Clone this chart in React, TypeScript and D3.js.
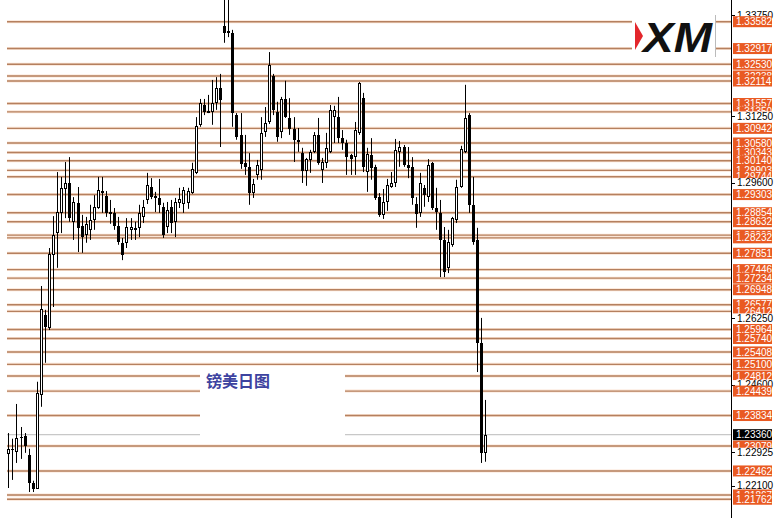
import React from "react";
import * as d3 from "d3";

// daily candles (oldest first)
const opens = [
  1.2288, 1.2298, 1.2293, 1.2328, 1.2333, 1.2286, 1.2217, 1.2202, 1.2434, 1.2632,
  1.26, 1.2781, 1.2835, 1.2885, 1.2944, 1.2959, 1.2863, 1.291, 1.2853, 1.283,
  1.2843, 1.2868, 1.2897, 1.2934, 1.2927, 1.2887, 1.2885, 1.2853, 1.2811, 1.2811,
  1.2843, 1.2848, 1.2848, 1.2875, 1.2917, 1.2949, 1.2927, 1.2922, 1.29, 1.285,
  1.29, 1.2863, 1.291, 1.2907, 1.291, 1.2934, 1.2984, 1.3103, 1.3152, 1.3137,
  1.3135, 1.3157, 1.3194, 1.3348, 1.3335, 1.333, 1.3127, 1.3078, 1.3009, 1.2999,
  1.2934, 1.2979, 1.2991, 1.3085, 1.311, 1.3224, 1.3135, 1.3085, 1.3167, 1.312,
  1.3093, 1.3066, 1.3033, 1.2989, 1.3016, 1.3036, 1.3078, 1.2991, 1.3009, 1.3036,
  1.3122, 1.3122, 1.307, 1.3058, 1.3028, 1.3023, 1.3083, 1.3169, 1.2986, 1.3028,
  1.2999, 1.2924, 1.288, 1.2912, 1.2949, 1.2959, 1.3036, 1.3048, 1.3004, 1.2999,
  1.2907, 1.2885, 1.2947, 1.2924, 1.3009, 1.2897, 1.2885, 1.2818, 1.2749, 1.2806,
  1.2868, 1.2949, 1.3036, 1.3127, 1.2905, 1.2818, 1.2563, 1.2291,
];
const highs = [
  1.234, 1.2326, 1.2412, 1.2355, 1.234, 1.2301, 1.2222, 1.2467, 1.2704, 1.2645,
  1.2798, 1.2877, 1.2986, 1.2974, 1.3011, 1.3023, 1.2924, 1.2949, 1.288, 1.2875,
  1.2905, 1.2929, 1.2974, 1.2974, 1.2939, 1.2917, 1.2897, 1.2875, 1.2823, 1.2872,
  1.2872, 1.2863, 1.2905, 1.2917, 1.2984, 1.2971, 1.2937, 1.2969, 1.291, 1.2912,
  1.2917, 1.2922, 1.2947, 1.2949, 1.2947, 1.3009, 1.3122, 1.3167, 1.3167, 1.3177,
  1.3214, 1.3221, 1.3229, 1.3424, 1.342, 1.3338, 1.3132, 1.3132, 1.3078, 1.3033,
  1.2969, 1.3016, 1.3122, 1.3147, 1.3283, 1.3229, 1.316, 1.3172, 1.3212, 1.3169,
  1.3122, 1.3095, 1.3046, 1.3021, 1.3041, 1.3085, 1.312, 1.3021, 1.3083, 1.3152,
  1.315, 1.3172, 1.309, 1.3066, 1.3031, 1.311, 1.3209, 1.3182, 1.3046, 1.307,
  1.3004, 1.2934, 1.2944, 1.2969, 1.2986, 1.3068, 1.3063, 1.3053, 1.3048, 1.3023,
  1.2924, 1.2984, 1.2954, 1.3018, 1.3011, 1.2947, 1.2917, 1.285, 1.2843, 1.2875,
  1.2967, 1.3051, 1.3202, 1.3132, 1.2974, 1.2848, 1.2625, 1.2422,
];
const lows = [
  1.2204, 1.2224, 1.2266, 1.2276, 1.2291, 1.2194, 1.2194, 1.2202, 1.2405, 1.2514,
  1.2595, 1.2652, 1.2749, 1.2835, 1.2872, 1.2863, 1.2818, 1.2788, 1.2786, 1.2811,
  1.2818, 1.2843, 1.2895, 1.2885, 1.2875, 1.2858, 1.2843, 1.2806, 1.2768, 1.2798,
  1.2818, 1.2818, 1.2825, 1.286, 1.2907, 1.2919, 1.2887, 1.2885, 1.2823, 1.2835,
  1.2835, 1.2825, 1.2897, 1.2885, 1.2895, 1.2932, 1.2981, 1.3098, 1.3127, 1.3132,
  1.3103, 1.314, 1.3048, 1.3306, 1.332, 1.3098, 1.3066, 1.2994, 1.2979, 1.2905,
  1.2922, 1.2967, 1.2967, 1.3073, 1.3105, 1.3127, 1.3061, 1.307, 1.312, 1.3078,
  1.3011, 1.3036, 1.2959, 1.2952, 1.2984, 1.3033, 1.3004, 1.2959, 1.2996, 1.3033,
  1.3058, 1.3058, 1.3041, 1.2979, 1.2979, 1.2979, 1.3078, 1.2986, 1.2937, 1.2967,
  1.2917, 1.2875, 1.287, 1.289, 1.2947, 1.2949, 1.2999, 1.2999, 1.2971, 1.2905,
  1.2848, 1.2875, 1.29, 1.2912, 1.2892, 1.2843, 1.2726, 1.2726, 1.2736, 1.2801,
  1.286, 1.2947, 1.3033, 1.2885, 1.2806, 1.2491, 1.2266, 1.2269,
];
const closes = [
  1.2301, 1.2301, 1.2328, 1.233, 1.2308, 1.2217, 1.2202, 1.2439, 1.2647, 1.2603,
  1.2783, 1.283, 1.2887, 1.2947, 1.2959, 1.2872, 1.2912, 1.2848, 1.2825, 1.2858,
  1.2868, 1.29, 1.2942, 1.2939, 1.2885, 1.2882, 1.2853, 1.2813, 1.2781, 1.285,
  1.285, 1.2843, 1.2885, 1.29, 1.2954, 1.2924, 1.2922, 1.2905, 1.283, 1.2892,
  1.286, 1.2912, 1.2919, 1.2942, 1.2939, 1.2994, 1.31, 1.3157, 1.3135, 1.3132,
  1.3157, 1.3194, 1.3165, 1.333, 1.333, 1.3132, 1.3073, 1.3006, 1.2999, 1.2934,
  1.2957, 1.3004, 1.3083, 1.3108, 1.3251, 1.314, 1.3073, 1.3167, 1.3122, 1.3093,
  1.3066, 1.3061, 1.2989, 1.3018, 1.3036, 1.3078, 1.3009, 1.3011, 1.3046, 1.314,
  1.314, 1.307, 1.3058, 1.3023, 1.3018, 1.309, 1.3207, 1.2999, 1.3031, 1.2996,
  1.2922, 1.288, 1.2912, 1.2954, 1.2959, 1.3041, 1.3048, 1.3004, 1.2996, 1.2922,
  1.2882, 1.2959, 1.2929, 1.3004, 1.2897, 1.2887, 1.2818, 1.2739, 1.2813, 1.2872,
  1.2949, 1.3043, 1.312, 1.2905, 1.2813, 1.2563, 1.2291, 1.2335,
];

// horizontal support / resistance levels drawn on the chart
const levels = [
  1.33582, 1.32917, 1.3253, 1.32238, 1.32114, 1.31557, 1.3135, 1.30942, 1.3058,
  1.30343, 1.3014, 1.29903, 1.29744, 1.29303, 1.28854, 1.28632, 1.28299, 1.28232,
  1.27851, 1.27446, 1.27234, 1.26948, 1.26577, 1.26412, 1.25964, 1.2574, 1.25408,
  1.251, 1.24812, 1.24439, 1.23834, 1.23079, 1.22462, 1.21867, 1.21762,
];
const axisTicks = [1.3375, 1.3125, 1.296, 1.2625, 1.246, 1.22925, 1.221];
const lastPrice = 1.2336;
const title = "镑美日图";

const W = 781;
const H = 518;
const plotLeft = 7;
const plotRight = 731;
const fmt = d3.format(".5f");
const axisFont = "'Liberation Sans', Arial, sans-serif";

const y = d3.scaleLinear().domain([1.21743, 1.34119]).range([500, 0]);
const x = d3
  .scalePoint<number>()
  .domain(d3.range(opens.length))
  .range([8.3, 485]);

export default function App() {
  // labels on the price scale: lower ones are painted over upper ones
  const labels = [
    ...axisTicks.map((v) => ({ v, kind: "tick" })),
    ...levels.map((v) => ({ v, kind: "level" })),
  ].sort((a, b) => b.v - a.v);

  return (
    <svg
      width={W}
      height={H}
      style={{ position: "absolute", left: 0, top: 0, background: "#fff" }}
    >
      <rect width={W} height={H} fill="#fff" />

      {/* level lines */}
      {levels.map((v) => (
        <g key={"l" + v}>
          <line
            x1={plotLeft}
            x2={plotRight}
            y1={y(v)}
            y2={y(v)}
            stroke="#fbe4d4"
            strokeWidth={3}
          />
          <line
            x1={plotLeft}
            x2={plotRight}
            y1={y(v)}
            y2={y(v)}
            stroke="#b5805f"
            strokeWidth={1.4}
          />
        </g>
      ))}
      <line
        x1={plotLeft}
        x2={plotRight}
        y1={y(lastPrice)}
        y2={y(lastPrice)}
        stroke="#c8c8c8"
        strokeWidth={1.3}
      />

      {/* title box */}
      <rect x={200} y={368} width={145} height={71} fill="#fff" />
      <text
        x={206}
        y={387}
        fontFamily="'Noto Sans CJK SC', sans-serif"
        fontSize={16}
        fontWeight={700}
        fill="#3d43a0"
      >
        {title}
      </text>

      {/* logo */}
      <rect x={632} y={14} width={84} height={43} fill="#fff" />
      <polygon points="635,22 643,36 635,50" fill="#e3262b" />
      <text
        x={643}
        y={52}
        fontFamily="'Liberation Sans', Arial, sans-serif"
        fontSize={43}
        fontWeight={700}
        fontStyle="italic"
        textLength={69}
        lengthAdjust="spacingAndGlyphs"
        fill="#111"
      >
        XM
      </text>
      <line x1={715.5} x2={715.5} y1={15} y2={57} stroke="#bbb" />

      {/* candles */}
      {opens.map((o, i) => {
        const c = closes[i];
        const cx = Math.round(x(i)!);
        const top = Math.round(y(Math.max(o, c)));
        const bot = Math.round(y(Math.min(o, c)));
        const bull = c > o;
        return (
          <g key={"c" + i}>
            <line
              x1={cx + 0.5}
              x2={cx + 0.5}
              y1={y(highs[i])}
              y2={y(lows[i])}
              stroke="#000"
            />
            {bull && bot - top >= 2 ? (
              <rect
                x={cx - 0.5}
                y={top + 0.5}
                width={2}
                height={bot - top - 1}
                fill="#fff"
                stroke="#000"
              />
            ) : (
              <rect
                x={cx - 1}
                y={top}
                width={3}
                height={Math.max(bot - top, 1)}
                fill="#000"
              />
            )}
          </g>
        );
      })}

      {/* price scale */}
      <rect x={plotRight + 1} y={0} width={W - plotRight} height={H} fill="#fff" />
      <line x1={plotRight + 0.5} x2={plotRight + 0.5} y1={0} y2={H} stroke="#000" />
      {labels.map(({ v, kind }) =>
        kind === "tick" ? (
          <g key={"t" + v}>
            <rect x={plotRight + 2} y={y(v) - 4.5} width={40} height={9} fill="#fff" />
            <line
              x1={plotRight}
              x2={plotRight + 4}
              y1={Math.round(y(v)) + 0.5}
              y2={Math.round(y(v)) + 0.5}
              stroke="#000"
            />
            <text
              x={plotRight + 6}
              y={y(v) + 3.6}
              fontFamily={axisFont}
              fontSize={10}
              fill="#000"
            >
              {fmt(v)}
            </text>
          </g>
        ) : (
          <g key={"o" + v}>
            <rect
              x={plotRight + 2}
              y={y(v) - 5.5}
              width={39}
              height={11}
              fill="#e95a22"
            />
            <text
              x={plotRight + 5}
              y={y(v) + 3.6}
              fontFamily={axisFont}
              fontSize={10}
              fill="#fff"
            >
              {fmt(v)}
            </text>
          </g>
        )
      )}
      <rect
        x={plotRight + 2}
        y={y(lastPrice) - 5.5}
        width={39}
        height={11}
        fill="#000"
      />
      <text
        x={plotRight + 5}
        y={y(lastPrice) + 3.6}
        fontFamily={axisFont}
        fontSize={10}
        fill="#fff"
      >
        {fmt(lastPrice)}
      </text>
    </svg>
  );
}
